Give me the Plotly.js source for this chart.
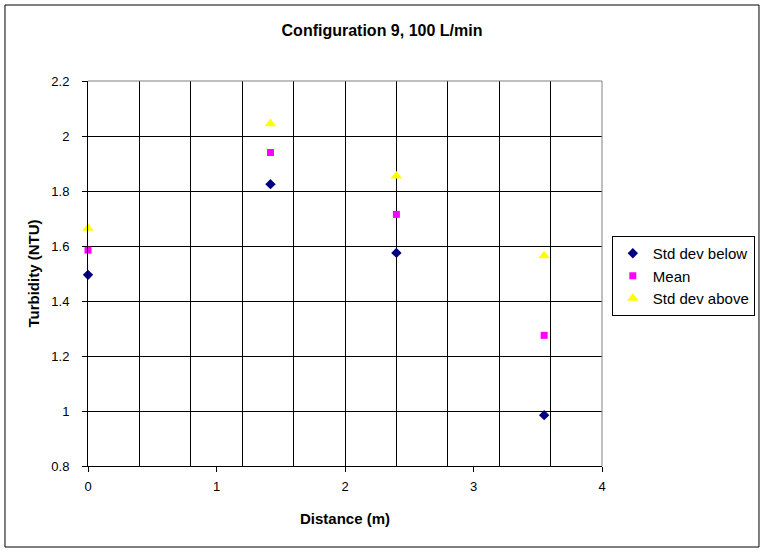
<!DOCTYPE html>
<html>
<head>
<meta charset="utf-8">
<script src="https://cdn.plot.ly/plotly-3.0.1.min.js"></script>
<style>body{margin:0;background:#fff;}</style>
</head>
<body>
<div id="chart" style="width:764px;height:552px;"></div>
<script>
// values
var distance = [0, 1.42, 2.4, 3.55];
var stdBelow = [1.495, 1.825, 1.575, 0.985];
var meanVals = [1.585, 1.94, 1.715, 1.275];
var stdAbove = [1.665, 2.045, 1.855, 1.565];
var xTicks = [0, 1, 2, 3, 4];
var yTicks = [0.8, 1, 1.2, 1.4, 1.6, 1.8, 2, 2.2];

var fontName = "Liberation Sans, Arial, sans-serif";

var traces = [
    {
        x: distance, y: stdBelow, mode: 'markers', name: 'Std dev below',
        marker: {symbol: 'diamond', size: 8, color: '#000080'},
        cliponaxis: false
    },
    {
        x: distance, y: meanVals, mode: 'markers', name: 'Mean',
        marker: {symbol: 'square', size: 7, color: '#ff00ff'},
        cliponaxis: false
    },
    {
        x: distance, y: stdAbove, mode: 'markers', name: 'Std dev above',
        marker: {symbol: 'triangle-up', size: 10, color: '#ffff00'},
        cliponaxis: false
    }
];

var layout = {
    width: 764,
    height: 552,
    margin: {l: 88, r: 162, t: 81, b: 86, autoexpand: false},
    paper_bgcolor: '#ffffff',
    plot_bgcolor: '#ffffff',
    font: {family: fontName, size: 13, color: '#000'},
    title: {
        text: '<b>Configuration 9, 100 L/min</b>',
        font: {family: fontName, size: 16, color: '#000'},
        x: 0.5, xref: 'container', y: 0.945, yanchor: 'middle'
    },
    xaxis: {
        range: [0, 4],
        tickvals: xTicks,
        ticktext: xTicks.map(String),
        showgrid: false,
        zeroline: false,
        showline: true, linecolor: '#000', linewidth: 1,
        ticks: 'outside', ticklen: 5, tickcolor: '#000',
        ticklabelstandoff: 3,
        tickfont: {family: fontName, size: 13},
        minor: {dtick: 0.4, tick0: 0, showgrid: true, gridcolor: '#000', gridwidth: 1, ticks: ''},
        title: {text: '<b>Distance (m)</b>', font: {family: fontName, size: 15}, standoff: 20}
    },
    yaxis: {
        range: [0.8, 2.2],
        tickvals: yTicks,
        ticktext: yTicks.map(String),
        showgrid: true, gridcolor: '#000', gridwidth: 1,
        zeroline: false,
        showline: true, linecolor: '#000', linewidth: 1,
        ticks: 'outside', ticklen: 5, tickcolor: '#000',
        ticklabelstandoff: 10,
        tickfont: {family: fontName, size: 13},
        title: {text: '<b>Turbidity (NTU)</b>', font: {family: fontName, size: 15}, standoff: 8}
    },
    legend: {
        xref: 'container', yref: 'container',
        x: 0.988, xanchor: 'right',
        y: 0.5725, yanchor: 'top',
        bgcolor: '#fff',
        bordercolor: '#000', borderwidth: 1,
        font: {family: fontName, size: 15}
    },
    showlegend: true,
    shapes: [
        // grey top and right border of the plot area
        {type: 'line', xref: 'paper', yref: 'paper', x0: 0, x1: 1, y0: 1, y1: 1,
         line: {color: '#808080', width: 1}, layer: 'above'},
        {type: 'line', xref: 'paper', yref: 'paper', x0: 1, x1: 1, y0: 0, y1: 1,
         line: {color: '#808080', width: 1}, layer: 'above'},
        // outer chart frame
        {type: 'rect', xref: 'paper', yref: 'paper',
         x0: -0.1615, x1: 1.3054, y0: -0.2104, y1: 1.1974,
         line: {color: '#000', width: 1}, layer: 'above'}
    ]
};

Plotly.newPlot('chart', traces, layout, {displayModeBar: false, staticPlot: true});
</script>
</body>
</html>
